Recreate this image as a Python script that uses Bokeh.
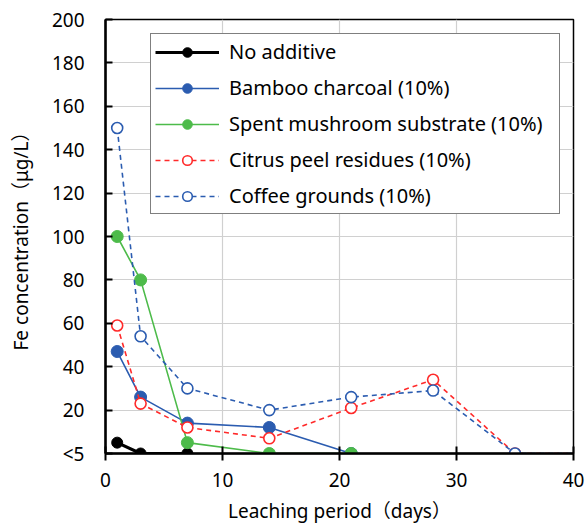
from bokeh.plotting import figure
from bokeh.models import Legend, LegendItem, Range1d, FixedTicker
from bokeh.embed import file_html
from bokeh.resources import INLINE

# ---- data ----
days_none = [1, 3, 7]
fe_none = [5, 0, 0]

days_bamboo = [1, 3, 7, 14, 21]
fe_bamboo = [47, 26, 14, 12, 0]

days_mush = [1, 3, 7, 14, 21]
fe_mush = [100, 80, 5, 0, 0]

days_citrus = [1, 3, 7, 14, 21, 28, 35, 42]
fe_citrus = [59, 23, 12, 7, 21, 34, 0, 0]

days_coffee = [1, 3, 7, 14, 21, 28, 35, 42]
fe_coffee = [150, 54, 30, 20, 26, 29, 0, 0]

y_ticks = [0, 20, 40, 60, 80, 100, 120, 140, 160, 180, 200]
y_tick_labels = {0: "<5"}
x_ticks = [0, 10, 20, 30, 40]

FONT = "Noto Sans, Noto Sans CJK JP"
BLACK = "#000000"
BLUE = "#2B5CB0"
GREEN = "#4DBB4A"
RED = "#FF2A2A"

p = figure(width=588, height=529, output_backend="svg", toolbar_location=None,
           x_range=Range1d(0, 40), y_range=Range1d(0, 200),
           min_border_left=105, min_border_right=15, min_border_top=19, min_border_bottom=76)

p.outline_line_color = "black"
p.outline_line_width = 1.5
p.background_fill_color = "white"
p.border_fill_color = "white"

p.xgrid.ticker = FixedTicker(ticks=x_ticks)
p.ygrid.ticker = FixedTicker(ticks=y_ticks)
p.grid.grid_line_color = "#D0D0D0"
p.grid.grid_line_width = 1.2

p.xaxis.ticker = FixedTicker(ticks=x_ticks)
p.yaxis.ticker = FixedTicker(ticks=y_ticks)
p.yaxis.major_label_overrides = y_tick_labels
for ax in (p.xaxis, p.yaxis):
    ax.axis_line_width = 2.5
    ax.axis_line_color = "black"
    ax.major_tick_line_width = 2
    ax.major_tick_line_color = "black"
    ax.minor_tick_line_color = None
    ax.major_label_text_font = FONT
    ax.major_label_text_font_size = "19px"
    ax.major_label_text_color = "black"
    ax.axis_label_text_font = FONT
    ax.axis_label_text_font_size = "19px"
    ax.axis_label_text_font_style = "normal"
    ax.axis_label_text_color = "black"

p.xaxis.major_tick_in = 7
p.xaxis.major_tick_out = 7
p.yaxis.major_tick_in = 7
p.yaxis.major_tick_out = 0
p.xaxis.major_label_standoff = 12
p.yaxis.major_label_standoff = 21
p.xaxis.axis_label = "Leaching period（days）"
p.yaxis.axis_label = "Fe concentration（μg/L）"
p.xaxis.axis_label_standoff = 8
p.yaxis.axis_label_standoff = 15

items = []

def series(x, y, color, label, lw, dash, filled, size):
    r1 = p.line(x, y, line_color=color, line_width=lw, line_dash=dash)
    if filled:
        r2 = p.scatter(x, y, marker="circle", size=size, fill_color=color, line_color=color, line_width=1)
    else:
        r2 = p.scatter(x, y, marker="circle", size=size, fill_color="white", line_color=color, line_width=1.6)
    items.append(LegendItem(label=label, renderers=[r1, r2]))

series(days_none, fe_none, BLACK, "No additive", 3.2, "solid", True, 11)
series(days_bamboo, fe_bamboo, BLUE, "Bamboo charcoal (10%)", 1.6, "solid", True, 12)
series(days_mush, fe_mush, GREEN, "Spent mushroom substrate (10%)", 1.6, "solid", True, 12)
series(days_citrus, fe_citrus, RED, "Citrus peel residues (10%)", 1.6, "5 4", False, 11)
series(days_coffee, fe_coffee, BLUE, "Coffee grounds (10%)", 1.6, "5 4", False, 11)

legend = Legend(items=items, location=(45, 239))
legend.label_text_font = FONT
legend.label_text_font_size = "20px"
legend.label_text_color = "black"
legend.border_line_color = "black"
legend.border_line_width = 1.5
legend.background_fill_color = "white"
legend.background_fill_alpha = 1
legend.padding = 4
legend.spacing = 9
legend.glyph_height = 24
legend.label_height = 24
legend.glyph_width = 64
legend.label_standoff = 10
legend.label_width = 326
legend.margin = 0
p.add_layout(legend, "center")

open("out.html", "w").write(file_html(p, INLINE))
